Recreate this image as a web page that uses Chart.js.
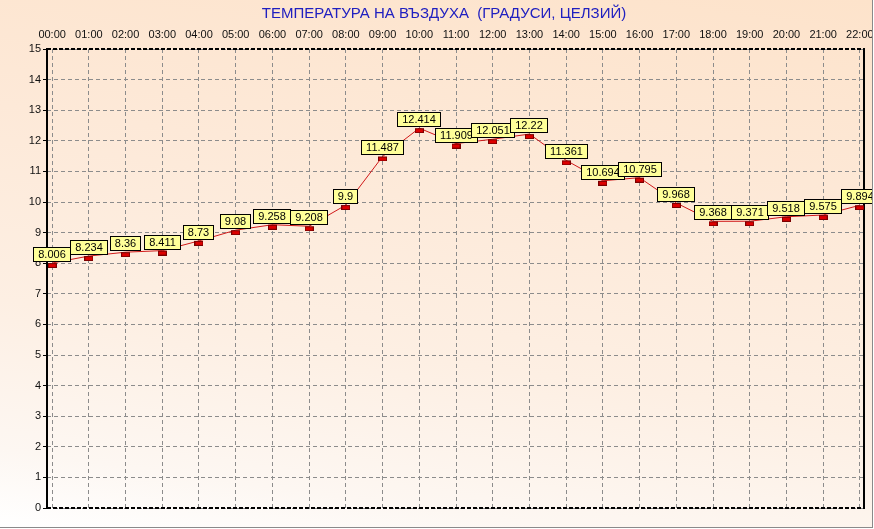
<!DOCTYPE html>
<html><head><meta charset="utf-8">
<script src="https://cdn.jsdelivr.net/npm/chart.js@4/dist/chart.umd.min.js"></script>
<style>
html,body{margin:0;padding:0;background:#fff;}
#wrap{position:absolute;left:0;top:0;width:872px;height:527px;border-right:1px solid #8a8a8a;border-bottom:1px solid #8a8a8a;
background:linear-gradient(8deg,#ffffff 0%,#fdf7f2 12%,#fdefe3 35%,#fde9d8 65%,#fde3cb 100%);}
canvas{display:block;}
</style></head><body>
<div id="wrap"><canvas id="c" width="872" height="527"></canvas></div>
<script>
const TITLE = 'ТЕМПЕРАТУРА НА ВЪЗДУХА  (ГРАДУСИ, ЦЕЛЗИЙ)';
const hours = ['00:00','01:00','02:00','03:00','04:00','05:00','06:00','07:00','08:00','09:00','10:00','11:00',
               '12:00','13:00','14:00','15:00','16:00','17:00','18:00','19:00','20:00','21:00','22:00'];
const temps = [8.006, 8.234, 8.36, 8.411, 8.73, 9.08, 9.258, 9.208, 9.9, 11.487, 12.414, 11.909,
               12.051, 12.22, 11.361, 10.694, 10.795, 9.968, 9.368, 9.371, 9.518, 9.575, 9.894];
const yMin = 0, yMax = 15, yStep = 1;

const FONT = "'Liberation Sans', Arial, sans-serif";

// marker image: small red rectangle sitting slightly below the point
const mk = document.createElement('canvas');
mk.width = 9; mk.height = 10;
(function(){
  const c = mk.getContext('2d');
  c.fillStyle = '#dd0000';
  c.fillRect(0, 5, 9, 5);
  c.strokeStyle = '#7a0000';
  c.lineWidth = 1;
  c.strokeRect(0.5, 5.5, 8, 4);
})();

const framePlugin = {
  id: 'frame',
  beforeDraw(chart) {
    const ctx = chart.ctx;
    ctx.save();
    ctx.font = '15px ' + FONT;
    ctx.fillStyle = '#2020c0';
    ctx.textAlign = 'center';
    ctx.textBaseline = 'middle';
    ctx.fillText(TITLE, 444, 14);
    ctx.restore();
  },
  beforeDatasetsDraw(chart) {
    const {ctx, chartArea: a} = chart;
    ctx.save();
    ctx.strokeStyle = '#000';
    ctx.lineWidth = 2;
    ctx.setLineDash([4, 2]);
    ctx.beginPath();
    ctx.moveTo(a.left, a.top); ctx.lineTo(a.right, a.top);
    ctx.moveTo(a.left, a.bottom); ctx.lineTo(a.right, a.bottom);
    ctx.stroke();
    ctx.setLineDash([]);
    ctx.beginPath();
    ctx.moveTo(a.right - 1, a.top - 1); ctx.lineTo(a.right - 1, a.bottom + 1);
    ctx.moveTo(a.left, a.top - 1); ctx.lineTo(a.left, a.bottom + 1);
    ctx.stroke();
    ctx.restore();
  },
  afterDatasetsDraw(chart) {
    const ctx = chart.ctx;
    const meta = chart.getDatasetMeta(0);
    ctx.save();
    ctx.font = '11px ' + FONT;
    ctx.textAlign = 'center';
    ctx.textBaseline = 'middle';
    meta.data.forEach((pt, i) => {
      const txt = String(temps[i]);
      const w = Math.round(ctx.measureText(txt).width) + 10;
      const h = 15;
      const left = Math.round(pt.x - w / 2);
      const top = Math.round(pt.y - 1 - h);
      ctx.fillStyle = '#ffff99';
      ctx.fillRect(left, top, w, h);
      ctx.strokeStyle = '#000';
      ctx.lineWidth = 1;
      ctx.strokeRect(left + 0.5, top + 0.5, w - 1, h - 1);
      ctx.fillStyle = '#000';
      ctx.fillText(txt, left + w / 2, top + h / 2 + 0.5);
    });
    ctx.restore();
  }
};

new Chart(document.getElementById('c'), {
  type: 'line',
  data: {
    datasets: [{
      data: hours.map((h, i) => ({x: i, y: temps[i]})),
      borderColor: '#d01818',
      borderWidth: 1,
      pointStyle: mk,
      pointRadius: 5,
      tension: 0,
      fill: false
    }]
  },
  options: {
    responsive: false,
    animation: false,
    devicePixelRatio: 1,
    layout: {padding: {left: 0, right: 7, top: 0, bottom: 19}},
    plugins: {legend: {display: false}, title: {display: false}, tooltip: {enabled: false}},
    scales: {
      x: {
        type: 'linear',
        position: 'top',
        min: -0.14,
        max: hours.length - 1 + 0.14,
        afterFit(s) { s.height = 49; s.paddingLeft = 0; s.paddingRight = 0; },
        ticks: {
          stepSize: 1,
          includeBounds: false,
          autoSkip: false,
          maxRotation: 0,
          padding: 7,
          color: '#111',
          font: {family: FONT, size: 11},
          callback: (v) => hours[v] !== undefined && Number.isInteger(v) ? hours[v] : ''
        },
        grid: {color: '#8c8c8c', lineWidth: 1, drawTicks: false},
        border: {display: false, dash: [4, 3]}
      },
      y: {
        min: yMin,
        max: yMax,
        afterFit(s) { s.width = 47; s.paddingTop = 0; s.paddingBottom = 0; },
        ticks: {
          stepSize: yStep,
          padding: 2,
          color: '#111',
          font: {family: FONT, size: 11}
        },
        grid: {color: '#8c8c8c', lineWidth: 1, drawTicks: true, tickLength: 4, tickColor: '#000', tickBorderDash: []},
        border: {display: false, dash: [4, 3]}
      }
    }
  },
  plugins: [framePlugin]
});
</script>
</body></html>
